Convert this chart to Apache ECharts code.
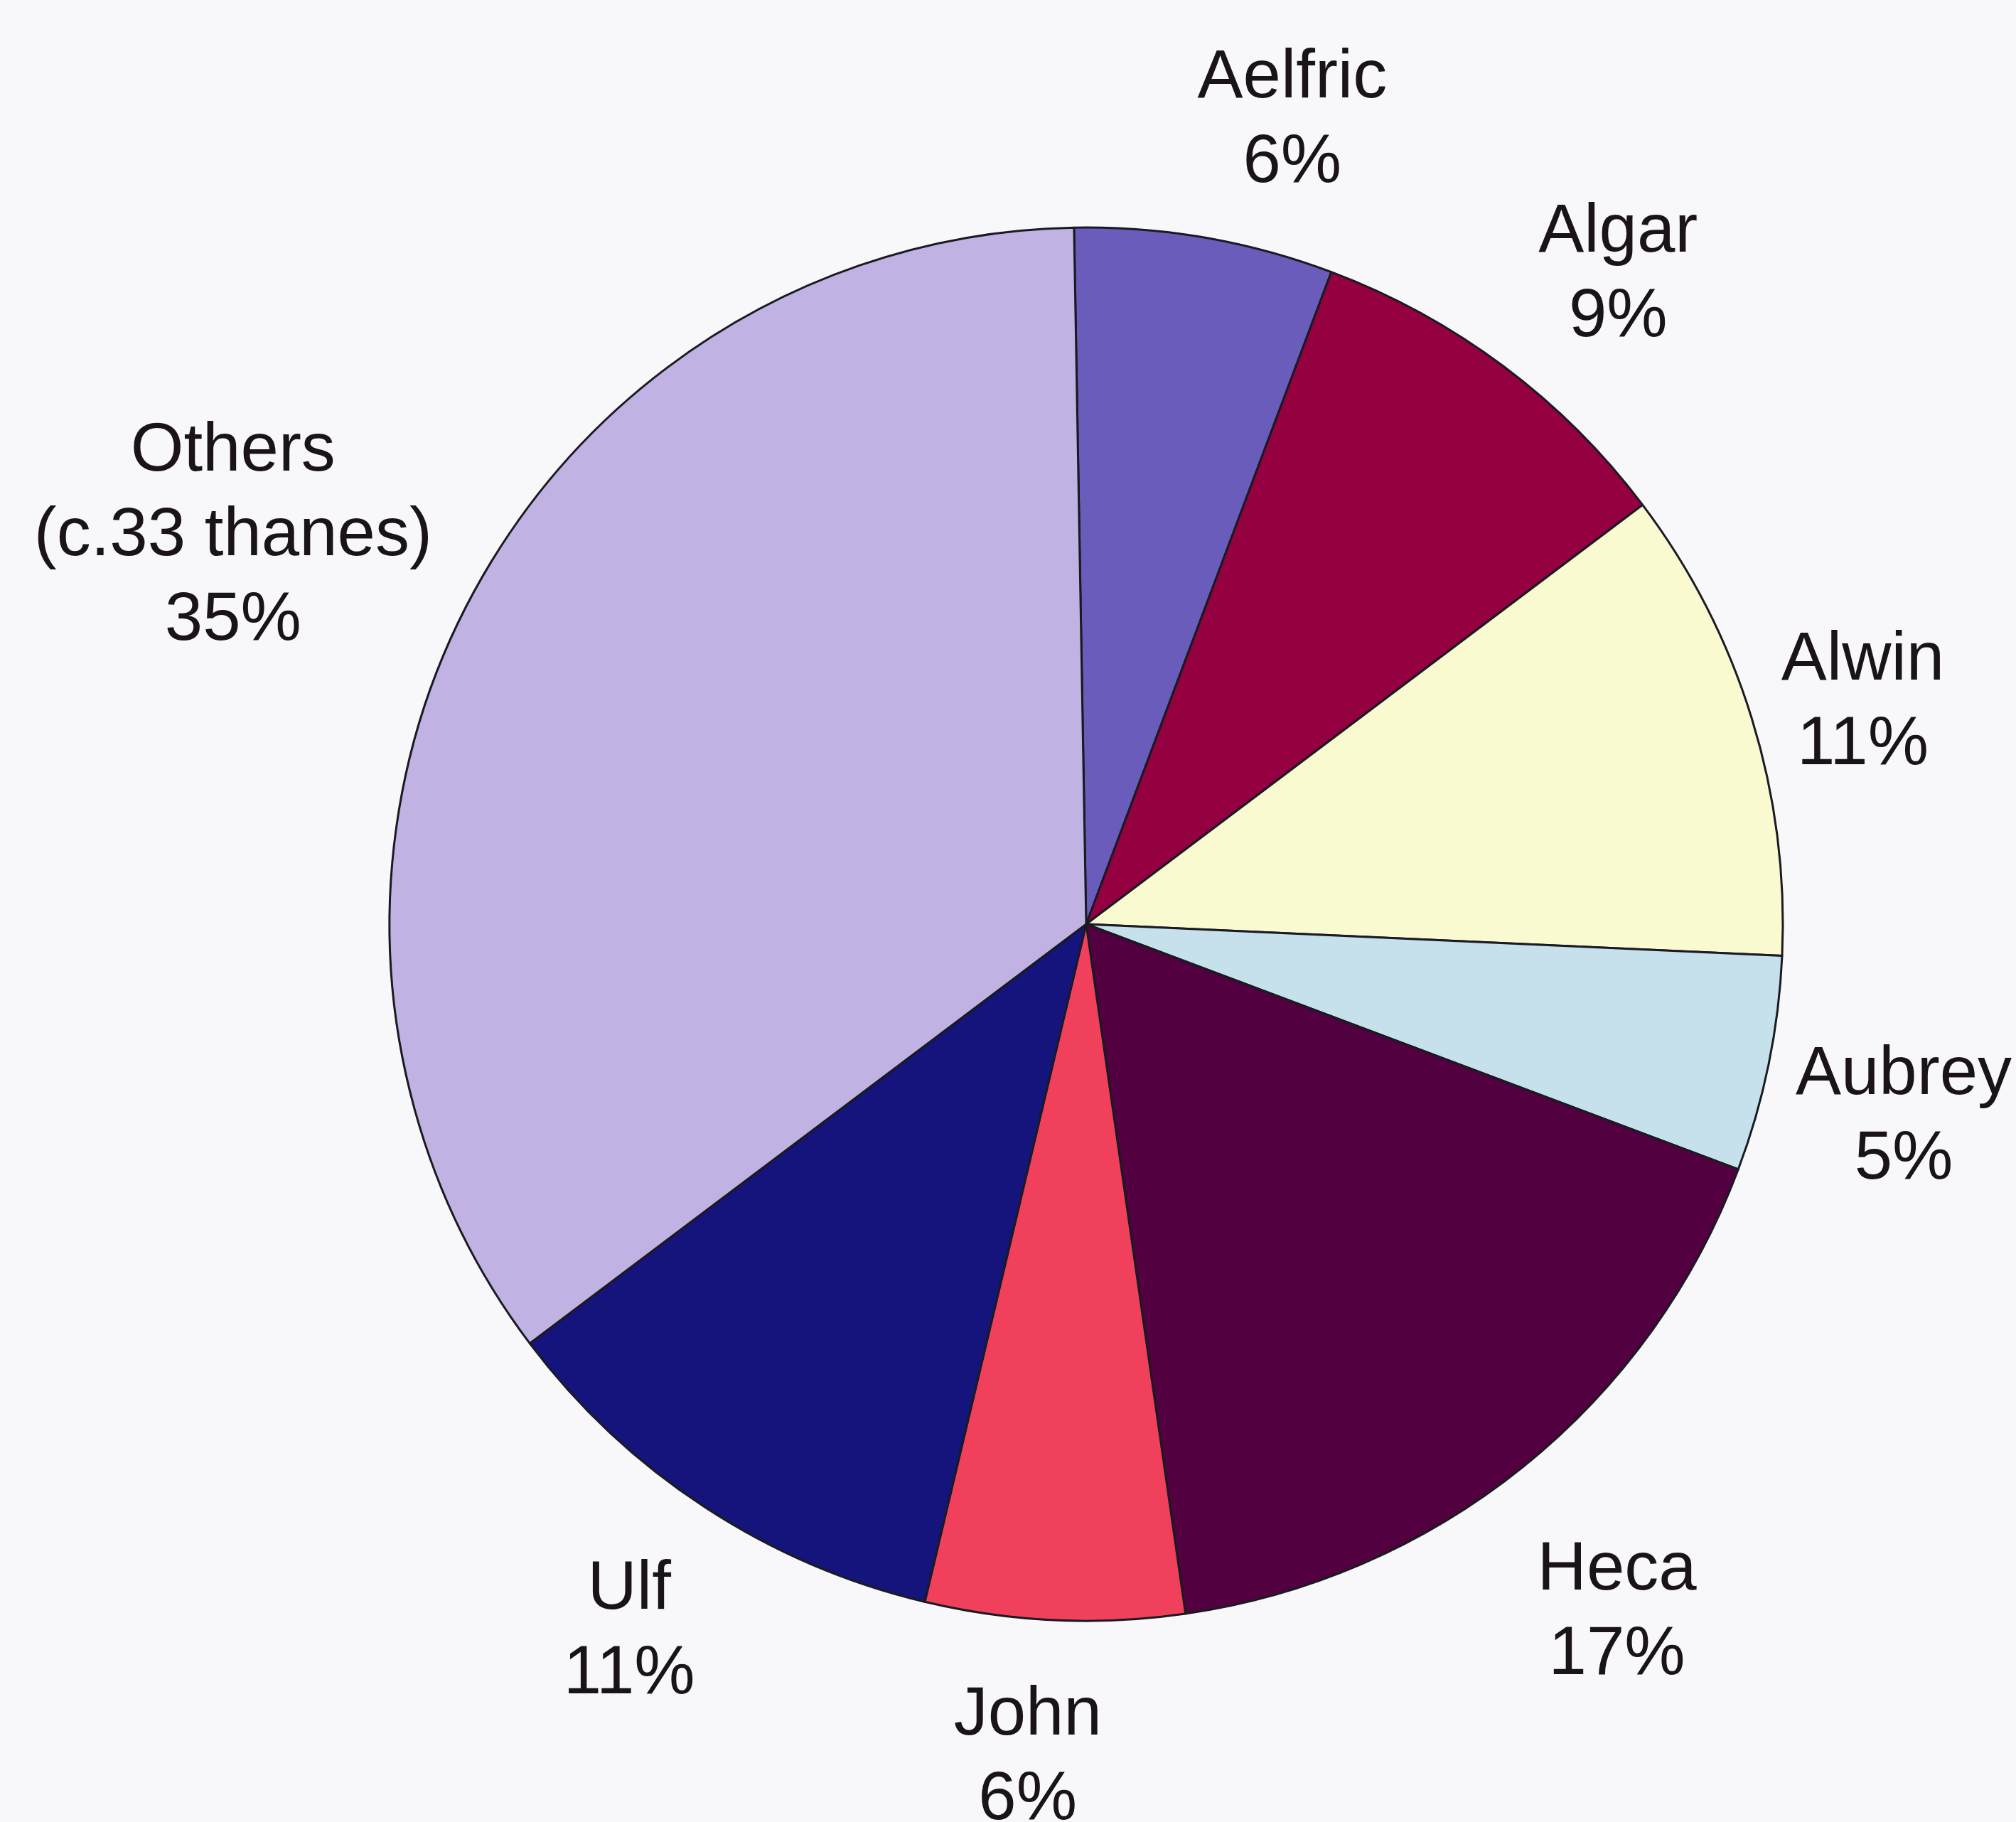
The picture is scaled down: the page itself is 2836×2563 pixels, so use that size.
<!DOCTYPE html>
<html>
<head>
<meta charset="utf-8">
<title>Thanes' share</title>
<script src="https://cdn.jsdelivr.net/npm/echarts@6/dist/echarts.min.js"></script>
<style>
  html, body { margin: 0; padding: 0; background: #f8f8fa; }
  #chart { width: 2836px; height: 2563px; }
</style>
</head>
<body>
<div id="chart"></div>
<script>
// Holders, in clockwise order from twelve o'clock
const names = ['Aelfric', 'Algar', 'Alwin', 'Aubrey', 'Heca', 'John', 'Ulf', 'Others\n(c.33 thanes)'];
// Share of the total, in percent
const shares = [6, 9, 11, 5, 17, 6, 11, 35];
// Slice fills
const fills = ['#6a5cba', '#940040', '#fafad0', '#c6e0ec', '#520040', '#f0405c', '#14147c', '#c0b2e2'];

const chart = echarts.init(document.getElementById('chart'), null, { renderer: 'canvas' });

const center = [1528, 1300];
const R = 980;
const textStyle = {
  fontFamily: '"Liberation Sans", Arial, sans-serif',
  fontSize: 96,
  lineHeight: 119,
  color: '#1a1418'
};

// Small nudges so each label sits clear of its slice
const labelNudge = {
  'Aelfric': [90, 27],
  'Algar': [45, 27],
  'Alwin': [-29, 36],
  'Aubrey': [0, 36],
  'Heca': [11, 54],
  'John': [-29, 0],
  'Ulf': [0, 14],
  'Others\n(c.33 thanes)': [-145, -31]
};

const sliceData = names.map((n, i) => ({
  name: n,
  value: shares[i],
  itemStyle: { color: fills[i] }
}));

// Ring of transparent slices that carries the labels outside the pie
const labelData = names.map((n, i) => ({
  name: n,
  value: shares[i],
  label: { offset: labelNudge[n] }
}));

chart.setOption({
  backgroundColor: '#f8f8fa',
  animation: false,
  series: [
    {
      type: 'pie',
      center: center,
      radius: [0, R],
      startAngle: 91,
      clockwise: true,
      silent: true,
      label: { show: false },
      labelLine: { show: false },
      itemStyle: { borderColor: '#1a1a22', borderWidth: 3 },
      data: sliceData
    },
    {
      type: 'pie',
      center: center,
      radius: [R + 95, R + 287],
      startAngle: 91,
      clockwise: true,
      silent: true,
      itemStyle: { color: 'rgba(0,0,0,0)', borderWidth: 0 },
      labelLine: { show: false },
      label: Object.assign({
        show: true,
        position: 'inside',
        align: 'center',
        verticalAlign: 'middle',
        formatter: p => p.name + '\n' + p.value + '%'
      }, textStyle),
      data: labelData
    }
  ]
});
</script>
</body>
</html>
